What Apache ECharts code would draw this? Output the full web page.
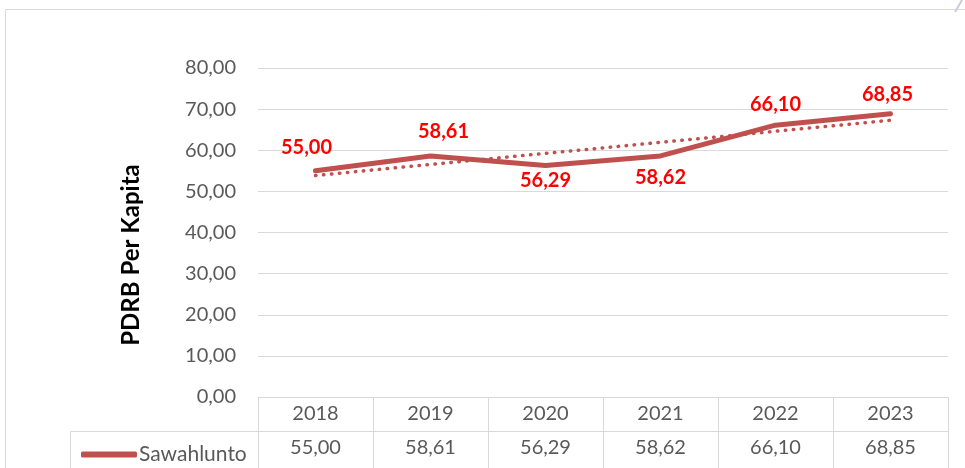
<!DOCTYPE html>
<html>
<head>
<meta charset="utf-8">
<script src="https://cdn.jsdelivr.net/npm/echarts@6/dist/echarts.min.js"></script>
<style>html,body{margin:0;padding:0;background:#fff}#c{width:965px;height:468px}</style>
</head>
<body>
<div id="c"></div>
<script>
var categories = ['2018', '2019', '2020', '2021', '2022', '2023'];
var seriesName = 'Sawahlunto';
var values = [55.00, 58.61, 56.29, 58.62, 66.10, 68.85];
// linear trendline endpoints (first and last category)
var trendStart = 53.86;
var trendEnd = 67.30;
var yTicks = { min: 0, max: 80, interval: 10 };
var yTitle = 'PDRB Per Kapita';

// label placement (style only)
var labelPositions = ['top', 'top', 'bottom', 'bottom', 'top', 'top'];
var labelDistances = [13, 14, 5, 11, 10, 9];
var labelShiftX = [-9, 13, 0, 0, 0, -3];

function fmt(v) { return v.toFixed(2).replace('.', ','); }

var trendData = categories.map(function (c, i) {
  if (i === 0) return trendStart;
  if (i === categories.length - 1) return trendEnd;
  return null;
});

var FONT = 'Lato, "Open Sans", sans-serif';
var GRID_COLOR = '#D9D9D9';
var LINE_COLOR = '#C0504D';
var TEXT_COLOR = '#595959';

var lineData = values.map(function (v, i) {
  return {
    value: v,
    label: { position: labelPositions[i], distance: labelDistances[i], offset: [labelShiftX[i], 0] }
  };
});

var chart = echarts.init(document.getElementById('c'), null, { renderer: 'canvas' });
chart.setOption({
  animation: false,
  textStyle: { fontFamily: FONT },
  grid: { left: 258, right: 17, top: 68, bottom: 71, containLabel: false },
  legend: {
    data: [{ name: seriesName, icon: 'roundRect' }],
    left: 76, top: 439,
    itemWidth: 56, itemHeight: 6, itemGap: 0,
    textStyle: { fontSize: 21, color: TEXT_COLOR, fontFamily: FONT, padding: [0, 0, 0, -3] }
  },
  xAxis: [{
    type: 'category', data: categories, boundaryGap: true, position: 'bottom',
    axisLine: { show: true, lineStyle: { color: GRID_COLOR, width: 1 } },
    axisTick: { show: true, length: 34, lineStyle: { color: GRID_COLOR } },
    axisLabel: { fontSize: 20, color: TEXT_COLOR, margin: 7, fontFamily: FONT }
  }, {
    type: 'category', data: values.map(fmt), boundaryGap: true, position: 'bottom', offset: 34,
    axisLine: { show: true, lineStyle: { color: GRID_COLOR, width: 1 } },
    axisTick: { show: true, length: 40, lineStyle: { color: GRID_COLOR } },
    axisLabel: { fontSize: 20, color: TEXT_COLOR, margin: 7, fontFamily: FONT }
  }],
  yAxis: {
    type: 'value', min: yTicks.min, max: yTicks.max, interval: yTicks.interval,
    axisLine: { show: false }, axisTick: { show: false },
    axisLabel: { fontSize: 20, color: TEXT_COLOR, margin: 22, formatter: function (v) { return fmt(v); }, fontFamily: FONT },
    splitLine: { show: true, lineStyle: { color: GRID_COLOR, width: 1 } }
  },
  series: [{
    name: 'trend', type: 'line', data: trendData, connectNulls: true, symbol: 'none',
    xAxisIndex: 0, silent: true, z: 1,
    lineStyle: { color: LINE_COLOR, width: 3.5, type: [0.5, 7.5], cap: 'round' }
  }, {
    name: seriesName, type: 'line', data: lineData, xAxisIndex: 0, z: 2,
    symbol: 'circle', symbolSize: 1, showSymbol: true,
    itemStyle: { color: LINE_COLOR },
    lineStyle: { color: LINE_COLOR, width: 5, cap: 'round', join: 'round' },
    label: {
      show: true, fontSize: 20, fontWeight: 'bold', color: '#FF0000', fontFamily: FONT,
      formatter: function (p) { return fmt(p.value); }
    }
  }],
  graphic: [
    { type: 'rect', shape: { x: 5.5, y: 9.5, width: 980, height: 480 }, style: { fill: 'none', stroke: GRID_COLOR, lineWidth: 1 }, silent: true },
    { type: 'line', shape: { x1: 70.5, y1: 431.5, x2: 258, y2: 431.5 }, style: { stroke: GRID_COLOR, lineWidth: 1 }, silent: true },
    { type: 'line', shape: { x1: 70.5, y1: 431.5, x2: 70.5, y2: 470 }, style: { stroke: GRID_COLOR, lineWidth: 1 }, silent: true },
    { type: 'line', shape: { x1: 962, y1: 0, x2: 955, y2: 12 }, style: { stroke: '#C8CEDC', lineWidth: 2 }, silent: true },
    {
      type: 'text', x: 131, y: 255, rotation: Math.PI / 2, silent: true,
      style: { text: yTitle, fill: '#000', font: 'bold 24px ' + FONT, textAlign: 'center', textVerticalAlign: 'middle' }
    }
  ]
});
</script>
</body>
</html>
